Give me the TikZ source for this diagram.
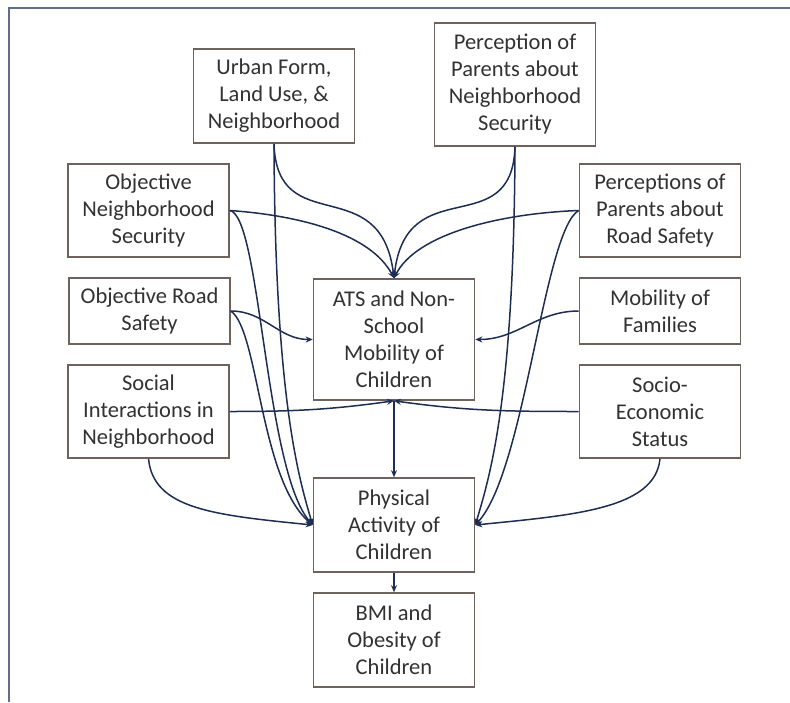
\documentclass[tikz,border=0pt]{standalone}
\usepackage{fontspec}
\setmainfont{Carlito}
\usetikzlibrary{arrows.meta}
\definecolor{boxline}{RGB}{110,98,93}
\definecolor{linkline}{RGB}{30,45,82}
\definecolor{frameline}{RGB}{95,110,140}
\definecolor{boxtext}{RGB}{50,50,50}

\begin{document}
\begin{tikzpicture}[x=1pt,y=1pt,
  factor/.style={draw=boxline, line width=1.6pt, fill=white, text=boxtext, align=center,
    minimum width=161pt, inner sep=2pt, font=\fontsize{22.5}{27}\selectfont},
  infl/.style={draw=linkline, line width=1.5pt, -{Stealth[length=7pt,width=6pt]}}]
\useasboundingbox (0,0) rectangle (790,-702);
\draw[frameline, line width=2pt] (9,-702) -- (9,-8) -- (790,-8);

\node[factor, minimum height=94pt] (urban) at (274,-96) {Urban Form,\\Land Use, \&\\Neighborhood};
\node[factor, minimum height=123pt] (ppns) at (515,-84.5) {Perception of\\Parents about\\Neighborhood\\Security};
\node[factor, minimum height=93pt] (ons) at (148.5,-210.5) {Objective\\Neighborhood\\Security};
\node[factor, minimum height=93pt] (pprs) at (660,-210.5) {Perceptions of\\Parents about\\Road Safety};
\node[factor, minimum height=66pt] (ors) at (149.5,-311) {Objective Road\\Safety};
\node[factor, minimum height=93pt] (social) at (148.5,-411.5) {Social\\Interactions in\\Neighborhood};
\node[factor, minimum height=121pt] (ats) at (394,-339.5) {ATS and Non-\\School\\Mobility of\\Children};
\node[factor, minimum height=66pt] (mob) at (660,-311) {Mobility of\\Families};
\node[factor, minimum height=93pt] (ses) at (660,-411.5) {Socio-\\Economic\\Status};
\node[factor, minimum height=94pt] (pa) at (394,-525) {Physical\\Activity of\\Children};
\node[factor, minimum height=94pt] (bmi) at (394,-640) {BMI and\\Obesity of\\Children};

\draw[infl] (urban.south) .. controls +(3,-97) and +(-13,109) .. (ats.north);
\draw[infl] (ons.east) .. controls +(71,-5) and +(-23,44) .. (ats.north);
\draw[infl] (ppns.south) .. controls +(-3,-97) and +(12,109) .. (ats.north);
\draw[infl] (pprs.west) .. controls +(-80,-3) and +(22,44) .. (ats.north);
\draw[infl] (ors.east) to[out=0,in=180] (ats.west);
\draw[infl] (mob.west) to[out=180,in=0] (ats.east);
\draw[infl] (social.east) to[out=0,in=188] (ats.south);
\draw[infl] (ses.west) to[out=180,in=-8] (ats.south);
\draw[infl] (ats.south) -- (pa.north);
\draw[infl] (pa.south) -- (bmi.north);

\draw[infl] (urban.south) .. controls +(1,-250) and +(-15,50) .. (pa.west);
\draw[infl] (ons.east) .. controls +(31,-5) and +(-48,55) .. (pa.west);
\draw[infl] (ors.east) .. controls +(28,-19) and +(-53,45) .. (pa.west);
\draw[infl] (social.south) .. controls +(5,-50) and +(-100,10) .. (pa.west);
\draw[infl] (ppns.south) .. controls +(-1,-250) and +(15,50) .. (pa.east);
\draw[infl] (pprs.west) .. controls +(-35,-20) and +(50,55) .. (pa.east);
\draw[infl] (ses.south) .. controls +(-5,-50) and +(100,10) .. (pa.east);
\end{tikzpicture}
\end{document}
